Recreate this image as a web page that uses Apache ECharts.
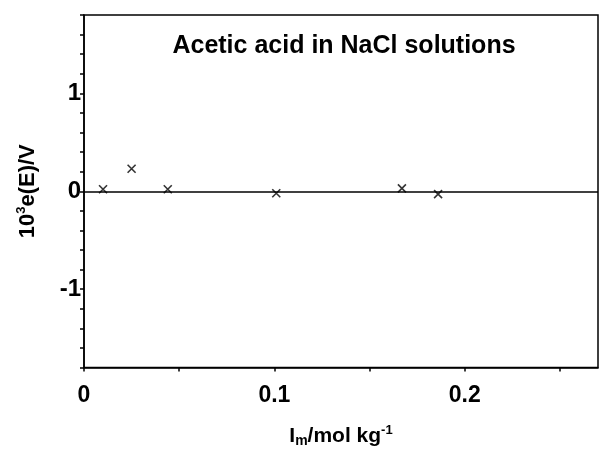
<!DOCTYPE html>
<html>
<head>
<meta charset="utf-8">
<script src="https://cdn.jsdelivr.net/npm/echarts@6/dist/echarts.min.js"></script>
<style>html,body{margin:0;padding:0;background:#fff}#c{width:599px;height:453px}</style>
</head>
<body>
<div id="c"></div>
<script>
const ionicStrength = [0.010, 0.025, 0.044, 0.101, 0.167, 0.186];
const residualE = [0.02, 0.23, 0.02, -0.02, 0.03, -0.03];
const xLabelValues = [0, 0.1, 0.2];
const yLabelValues = [-1, 0, 1];
const titleText = 'Acetic acid in NaCl solutions';

const FONT = '"Liberation Sans", Arial, sans-serif';
const points = ionicStrength.map((x, i) => [x, residualE[i]]);
const near = (v, arr) => arr.some(a => Math.abs(a - v) < 1e-6);

const chart = echarts.init(document.getElementById('c'), null, {renderer: 'canvas'});
chart.setOption({
  backgroundColor: '#fff',
  animation: false,
  title: {
    text: titleText,
    left: 339, top: 29, textAlign: 'center',
    textStyle: {fontFamily: FONT, fontWeight: 'bold', fontSize: 25, color: '#000'}
  },
  grid: {left: 84, right: 1, top: 15, bottom: 79, show: true, borderColor: '#000', borderWidth: 1.5, backgroundColor: 'transparent'},
  xAxis: {
    type: 'value', min: 0, max: 0.27, interval: 0.05,
    axisLine: {onZero: false, lineStyle: {color: '#000', width: 1.5}},
    axisTick: {show: true, length: 4, lineStyle: {color: '#000', width: 1.5}},
    splitLine: {show: false},
    axisLabel: {
      margin: 17, color: '#000', fontFamily: FONT, fontWeight: 'bold', fontSize: 23,
      showMaxLabel: false,
      formatter: v => near(v, xLabelValues) ? (Math.abs(v) < 1e-9 ? '0' : v.toFixed(1)) : ''
    },
    name: '{n|I}{s|m}{n|/mol kg}{p|-1}',
    nameLocation: 'middle', nameGap: 56,
    nameTextStyle: {
      rich: {
        n: {fontFamily: FONT, fontWeight: 'bold', fontSize: 21, color: '#000'},
        s: {fontFamily: FONT, fontWeight: 'bold', fontSize: 14, color: '#000', padding: [10, 0, 0, 0]},
        p: {fontFamily: FONT, fontWeight: 'bold', fontSize: 13, color: '#000', padding: [0, 0, 12, 0]}
      }
    }
  },
  yAxis: {
    type: 'value', min: -1.8, max: 1.8, interval: 0.2,
    axisLine: {onZero: false, lineStyle: {color: '#000', width: 1.5}},
    axisTick: {show: true, length: 4, lineStyle: {color: '#000', width: 1.5}},
    splitLine: {show: false},
    axisLabel: {
      margin: 3, color: '#000', fontFamily: FONT, fontWeight: 'bold', fontSize: 24,
      formatter: v => near(v, yLabelValues) ? String(Math.round(v)) : ''
    },
    name: '{n|10}{p|3}{n|e(E)/V}',
    nameLocation: 'middle', nameGap: 44, nameRotate: 90,
    nameTextStyle: {
      rich: {
        n: {fontFamily: FONT, fontWeight: 'bold', fontSize: 22, color: '#000'},
        p: {fontFamily: FONT, fontWeight: 'bold', fontSize: 13, color: '#000', padding: [0, 0, 12, 0]}
      }
    }
  },
  series: [{
    type: 'scatter',
    data: points,
    symbol: 'path://M0,0L10,10M10,0L0,10',
    symbolSize: 8,
    itemStyle: {color: 'transparent', borderColor: '#000', borderWidth: 1.6},
    markLine: {
      silent: true, symbol: 'none', label: {show: false},
      lineStyle: {color: '#000', width: 1.5, type: 'solid'},
      data: [{yAxis: 0}]
    },
    z: 3
  }]
});
</script>
</body>
</html>
